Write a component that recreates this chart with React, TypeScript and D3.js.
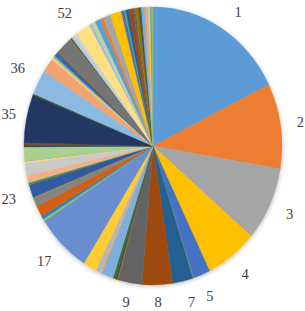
import React from "react";
import * as d3 from "d3";

// Category names (1..72) and their values (share of the pie, in degrees)
const categories: string[] = [
  "1","2","3","4","5","6","7","8","9","10","11","12","13","14","15","16","17","18","19","20",
  "21","22","23","24","25","26","27","28","29","30","31","32","33","34","35","36","37","38","39","40",
  "41","42","43","44","45","46","47","48","49","50","51","52","53","54","55","56","57","58","59","60",
  "61","62","63","64","65","66","67","68","69","70","71","72",
];
const values: number[] = [
  63.8, 35.7, 31.0, 23.5, 7.7, 0.3, 9.2, 13.7, 10.7, 0.6,
  0.6, 1.3, 5.3, 0.5, 2.5, 6.0, 24.9, 1.0, 1.4, 4.7,
  3.5, 0.3, 5.5, 1.0, 0.3, 2.9, 5.0, 0.7, 0.3, 5.7,
  0.4, 0.8, 0.3, 0.2, 20.1, 0.7, 10.4, 5.9, 0.4, 0.8,
  0.5, 0.3, 1.9, 0.4, 7.3, 0.3, 0.5, 0.3, 1.2, 0.3,
  1.3, 6.5, 1.2, 1.8, 2.5, 1.5, 3.3, 5.0, 1.5, 0.6,
  1.5, 1.8, 1.0, 1.6, 0.6, 0.5, 1.4, 0.8, 1.0, 0.8,
  0.6, 0.6,
];
// Categories whose data label is shown
const labeledCategories: string[] = ["1","2","3","4","5","7","8","9","17","23","35","36","52"];
// Office theme accent colours and Excel's colour variations (lumMod, lumOff)
const accents: string[] = ["#5B9BD5", "#ED7D31", "#A5A5A5", "#FFC000", "#4472C4", "#70AD47"];
const variations: [number, number][] = [
  [1, 0], [0.6, 0], [0.8, 0.2], [0.8, 0], [0.6, 0.4], [0.5, 0], [0.7, 0.3], [0.7, 0], [0.5, 0.5],
];
// label angle nudges (degrees) where Excel moved a label to avoid overlap
const labelNudge: Record<string, number> = { "1": 2.5, "7": -1.5, "36": 7, "52": -2 };

function sliceColor(i: number): string {
  const base = d3.hsl(accents[i % 6]);
  const [mod, off] = variations[Math.floor(i / 6) % variations.length];
  const c = d3.hsl(base.h, base.s, Math.min(1, base.l * mod + off));
  return c.formatHex();
}

export default function App() {
  const W = 305, H = 311;
  const cx = 153, cy = 146, rx = 129, ry = 139;
  const data = categories.map((c, i) => ({ c, v: values[i], i }));
  const pie = d3.pie<{ c: string; v: number; i: number }>().sort(null).value((d) => d.v);
  const arcs = pie(data);
  const arc = d3.arc<d3.PieArcDatum<any>>().innerRadius(0).outerRadius(ry);
  const gap = 18, fs = 14.5;

  return (
    <svg width={W} height={H} style={{ position: "absolute", left: 0, top: 0, background: "#fff" }}>
      <defs>
        <filter id="sh" x="-10%" y="-10%" width="120%" height="120%">
          <feDropShadow dx="0" dy="1" stdDeviation="2.2" floodColor="#000" floodOpacity="0.28" />
        </filter>
      </defs>
      <g filter="url(#sh)">
        <g transform={`translate(${cx},${cy}) scale(${rx / ry},1)`}>
          {arcs.map((a) => {
            const col = sliceColor(a.data.i);
            return <path key={a.data.c} d={arc(a) as string} fill={col} stroke={col} strokeWidth={0.4} />;
          })}
        </g>
      </g>
      <g fontFamily="'Liberation Serif', 'DejaVu Serif', serif" fontSize={fs} fill="#404040">
        {arcs
          .filter((a) => labeledCategories.includes(a.data.c))
          .map((a) => {
            const mid = (a.startAngle + a.endAngle) / 2 + ((labelNudge[a.data.c] || 0) * Math.PI) / 180;
            const s = Math.sin(mid), c = Math.cos(mid);
            const w = a.data.c.length * fs * 0.5;
            const h = fs * 0.7;
            let x = cx + (rx + gap) * s + (s * w) / 2;
            let y = cy - (ry + gap) * c - (c * h) / 2;
            x = Math.max(w / 2 + 1.5, Math.min(W - w / 2 - 1, x));
            y = Math.max(h / 2 + 6, Math.min(H - h / 2 - 3.5, y));
            return (
              <text key={a.data.c} x={x} y={y} textAnchor="middle" dominantBaseline="central">
                {a.data.c}
              </text>
            );
          })}
      </g>
    </svg>
  );
}
